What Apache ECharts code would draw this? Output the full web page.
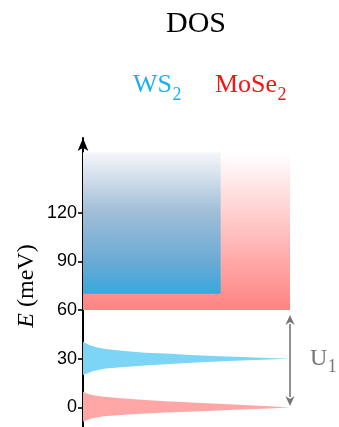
<!DOCTYPE html>
<html>
<head>
<meta charset="utf-8">
<script src="https://cdn.jsdelivr.net/npm/echarts@6/dist/echarts.min.js"></script>
<style>
  html, body { margin: 0; padding: 0; background: #fff; }
  #chart { width: 339px; height: 427px; }
</style>
</head>
<body>
<div id="chart"></div>
<script>
// Energy axis ticks (meV)
const energyTicks = [0, 30, 60, 90, 120];

// Continuum bands (DOS extent, bottom and top energy in meV), MoSe2 first, WS2 on top
const bandNames = ['MoSe2', 'WS2'];
const bandDos = [1.0, 0.665];
const bandBottom = [60, 70];
const bandTop = [157, 157];

// WS2 bound-state peak outline: upper edge axis -> tip, then lower edge tip -> axis
const ws2PeakE   = [40.5, 38.5, 37.0, 36.0, 34.8, 33.8, 33.2, 32.5, 31.9, 31.4, 30.9, 30.5, 30.0,
                    29.5, 29.1, 28.6, 28.0, 27.4, 26.6, 25.9, 25.0, 24.0, 22.5, 20.0];
const ws2PeakDos = [0, 0.03, 0.07, 0.11, 0.2, 0.3, 0.4, 0.5, 0.6, 0.7, 0.8, 0.9, 1.0,
                    0.9, 0.8, 0.7, 0.6, 0.5, 0.4, 0.3, 0.2, 0.11, 0.05, 0];

// MoSe2 bound-state peak outline
const mose2PeakE   = [9.8, 8.5, 7.5, 6.6, 5.5, 4.6, 3.9, 3.2, 2.6, 2.0, 1.4, 0.8, 0,
                      -0.6, -1.1, -1.6, -2.1, -2.6, -3.1, -3.7, -4.4, -5.4, -6.8, -8.7];
const mose2PeakDos = [0, 0.02, 0.05, 0.1, 0.2, 0.3, 0.4, 0.5, 0.6, 0.7, 0.8, 0.9, 1.0,
                      0.9, 0.8, 0.7, 0.6, 0.5, 0.4, 0.3, 0.2, 0.1, 0.04, 0];

// Gap annotation between the two bound states
const gapDos = 1.0;
const gapFrom = 0;
const gapTo = 60;

const serif = '"Liberation Serif", "DejaVu Serif", serif';
const sans = '"Liberation Sans", Arial, sans-serif';

// width of a serif string, used to butt subscripts against their base text
const measureCtx = document.createElement('canvas').getContext('2d');
function serifWidth(str, size) {
  measureCtx.font = size + 'px ' + serif;
  return measureCtx.measureText(str).width;
}

const LG = echarts.graphic.LinearGradient;
const bandFills = [
  new LG(0, 0, 0, 1, [
    { offset: 0, color: 'rgb(255,255,255)' },
    { offset: 1, color: 'rgb(255,130,130)' }
  ]),
  new LG(0, 0, 0, 1, [
    { offset: 0, color: 'rgb(246,246,250)' },
    { offset: 0.42, color: 'rgb(160,190,215)' },
    { offset: 0.78, color: 'rgb(105,170,212)' },
    { offset: 1, color: 'rgb(55,168,222)' }
  ])
];

const peaks = [
  { E: mose2PeakE, dos: mose2PeakDos, color: 'rgb(255,166,166)' },
  { E: ws2PeakE, dos: ws2PeakDos, color: 'rgb(125,213,245)' }
];

const blue = 'rgb(25,178,238)';
const red = 'rgb(245,20,20)';
const gray = 'rgb(118,118,118)';

const mainSize = 26, subSize = 18;
const wsX = 133, moseX = 215;
const wsSubX = wsX + serifWidth('WS', mainSize) + 0.5;
const moseSubX = moseX + serifWidth('MoSe', mainSize) + 0.5;
const uSubDx = 20 + serifWidth('U', 24) + 0.5;

const chart = echarts.init(document.getElementById('chart'), null, { renderer: 'canvas' });

chart.setOption({
  animation: false,
  grid: { left: 83, right: 49, top: 138, bottom: 0 },
  xAxis: { type: 'value', min: 0, max: 1, show: false },
  yAxis: {
    type: 'value',
    min: -12,
    max: 166,
    position: 'left',
    splitLine: { show: false },
    axisLine: {
      show: true,
      onZero: false,
      symbol: ['none', 'arrow'],
      symbolSize: [8, 13],
      lineStyle: { color: '#000', width: 2 }
    },
    axisTick: {
      show: true,
      length: 5,
      customValues: energyTicks,
      lineStyle: { color: '#000', width: 1.6 }
    },
    axisLabel: {
      customValues: energyTicks,
      color: '#000',
      fontFamily: sans,
      fontSize: 18,
      margin: 6
    }
  },
  graphic: [
    { type: 'text', x: 196, y: 24, style: { text: 'DOS', fontFamily: serif, fontSize: 30, fill: '#000', align: 'center', verticalAlign: 'middle' } },
    { type: 'text', x: wsX, y: 85, style: { text: 'WS', fontFamily: serif, fontSize: mainSize, fill: blue, align: 'left', verticalAlign: 'middle' } },
    { type: 'text', x: wsSubX, y: 95, style: { text: '2', fontFamily: serif, fontSize: subSize, fill: blue, align: 'left', verticalAlign: 'middle' } },
    { type: 'text', x: moseX, y: 85, style: { text: 'MoSe', fontFamily: serif, fontSize: mainSize, fill: red, align: 'left', verticalAlign: 'middle' } },
    { type: 'text', x: moseSubX, y: 95, style: { text: '2', fontFamily: serif, fontSize: subSize, fill: red, align: 'left', verticalAlign: 'middle' } },
    {
      type: 'text', x: 27, y: 286, rotation: Math.PI / 2,
      style: {
        text: '{i|E} (meV)', fontFamily: serif, fontSize: 24, fill: '#000',
        align: 'center', verticalAlign: 'middle',
        rich: { i: { fontStyle: 'italic', fontFamily: serif, fontSize: 24, fill: '#000' } }
      }
    }
  ],
  series: [
    {
      type: 'custom',
      name: 'bands',
      data: bandNames.map((n, i) => [0, bandDos[i], bandBottom[i], bandTop[i]]),
      encode: { x: [0, 1], y: [2, 3] },
      renderItem(params, api) {
        const i = params.dataIndex;
        const p0 = api.coord([api.value(0), api.value(3)]);
        const p1 = api.coord([api.value(1), api.value(2)]);
        return {
          type: 'rect',
          shape: { x: p0[0], y: p0[1], width: p1[0] - p0[0], height: p1[1] - p0[1] },
          style: { fill: bandFills[i] }
        };
      },
      z: 1
    },
    {
      type: 'custom',
      name: 'peaks',
      data: peaks.map((p, i) => [i]),
      renderItem(params, api) {
        const p = peaks[params.dataIndex];
        const pts = p.E.map((e, k) => api.coord([p.dos[k], e]));
        return { type: 'polygon', shape: { points: pts }, style: { fill: p.color } };
      },
      z: 2
    },
    {
      type: 'custom',
      name: 'gap',
      data: [[gapDos, gapFrom, gapTo]],
      encode: { x: 0, y: [1, 2] },
      renderItem(params, api) {
        const top = api.coord([api.value(0), api.value(2)]);
        const bot = api.coord([api.value(0), api.value(1)]);
        const x = top[0];
        const tTip = top[1] + 5, bTip = bot[1] - 1.5;
        const hl = 10, hw = 4.6;
        const midY = (top[1] + bot[1]) / 2;
        return {
          type: 'group',
          children: [
            { type: 'line', shape: { x1: x, y1: tTip + hl - 1, x2: x, y2: bTip - hl + 1 }, style: { stroke: gray, lineWidth: 1.6 } },
            { type: 'polygon', shape: { points: [[x, tTip], [x - hw, tTip + hl], [x, tTip + hl - 3], [x + hw, tTip + hl]] }, style: { fill: gray } },
            { type: 'polygon', shape: { points: [[x, bTip], [x - hw, bTip - hl], [x, bTip - hl + 3], [x + hw, bTip - hl]] }, style: { fill: gray } },
            { type: 'text', x: x + 20, y: midY, style: { text: 'U', fontFamily: serif, fontSize: 24, fill: gray, align: 'left', verticalAlign: 'middle' } },
            { type: 'text', x: x + uSubDx, y: midY + 8, style: { text: '1', fontFamily: serif, fontSize: subSize, fill: gray, align: 'left', verticalAlign: 'middle' } }
          ]
        };
      },
      z: 3
    }
  ]
});
</script>
</body>
</html>
